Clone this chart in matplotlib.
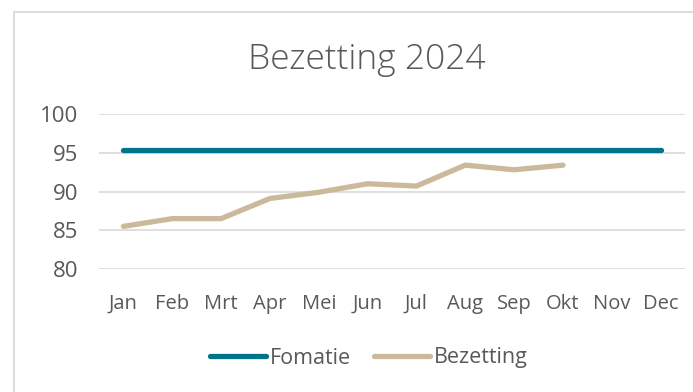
import matplotlib.pyplot as plt
from matplotlib.patches import Rectangle

plt.rcParams['font.family'] = ['Open Sans', 'DejaVu Sans']

maanden = ['Jan', 'Feb', 'Mrt', 'Apr', 'Mei', 'Jun', 'Jul', 'Aug', 'Sep', 'Okt', 'Nov', 'Dec']
formatie = [95.4] * 12
bezetting = [85.5, 86.5, 86.5, 89.1, 89.9, 91.0, 90.7, 93.4, 92.8, 93.4]

grijs = '#595959'
teal = '#00738d'
beige = '#cbb99c'

fig = plt.figure(figsize=(6.93, 3.92), dpi=100)
ax = fig.add_axes([99 / 693, 1 - 269 / 392, 586 / 693, 155 / 392])

# kader rond de grafiek
fig.patches.append(Rectangle((13.5 / 693, -0.1), 1.0, 1 - 12 / 392 + 0.1,
                             transform=fig.transFigure, fill=False,
                             edgecolor='#d9d9d9', linewidth=1.3))

x = list(range(len(maanden)))
ax.plot(x, formatie, color=teal, lw=3.8, solid_capstyle='round', label='Fomatie')
ax.plot(x[:len(bezetting)], bezetting, color=beige, lw=3.8,
        solid_capstyle='round', solid_joinstyle='miter', label='Bezetting')

ax.set_xlim(-0.5, 11.5)
ax.set_ylim(80, 100)
ax.set_yticks([80, 85, 90, 95, 100])
ax.set_xticks(x)
ax.set_xticklabels(maanden)
ax.grid(axis='y', color='#d9d9d9', lw=1.2)
ax.set_axisbelow(True)
for s in ax.spines.values():
    s.set_visible(False)
ax.tick_params(length=0, colors=grijs, labelsize=14.5)
ax.tick_params(axis='y', pad=15, labelsize=16)
ax.tick_params(axis='x', pad=18)

fig.text(367 / 693, 1 - 60 / 392, 'Bezetting 2024', ha='center', va='center',
         fontsize=25.5, fontweight='light', color=grijs)

leg = fig.legend(loc='center', bbox_to_anchor=(369 / 693, 1 - 358 / 392), ncol=2,
                 frameon=False, fontsize=15.5, handlelength=2.6, handletextpad=0.15,
                 columnspacing=1.1)
for t in leg.get_texts():
    t.set_color(grijs)

fig.savefig('out.png', dpi=100)
